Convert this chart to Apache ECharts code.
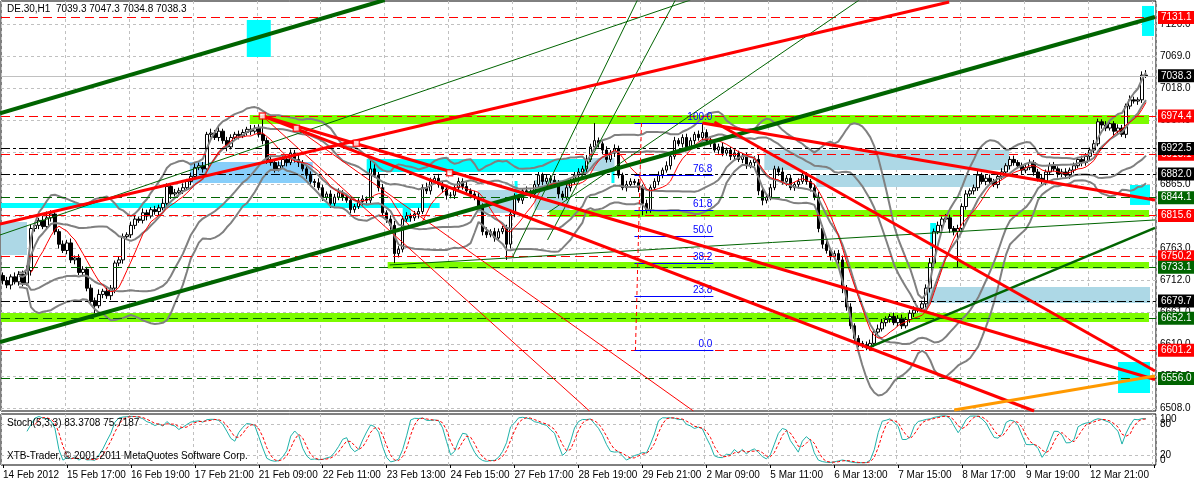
<!DOCTYPE html>
<html><head><meta charset="utf-8">
<script src="https://cdn.jsdelivr.net/npm/echarts@6/dist/echarts.min.js"></script>
<style>html,body{margin:0;padding:0;background:#fff}#c{width:1194px;height:484px}</style>
</head><body><div id="c"></div>
<script>
// ---------- DATA ----------
const xTickLabels = ['14 Feb 2012','15 Feb 17:00','16 Feb 19:00','17 Feb 21:00','21 Feb 09:00','22 Feb 11:00','23 Feb 13:00','24 Feb 15:00','27 Feb 17:00','28 Feb 19:00','29 Feb 21:00','2 Mar 09:00','5 Mar 11:00','6 Mar 13:00','7 Mar 15:00','8 Mar 17:00','9 Mar 19:00','12 Mar 21:00'];
const priceTicks = [6508,6559,6610,6661,6712,6763,6814,6865,6916,6967,7018,7069,7120];
const stochLevelTicks = [20,80];
const stochEdgeTicks = [0,100];
const firstOpen = 6720;
const closes = [
6712,6705,6718,6710,6722,6708,6728,6795,6800,6808,6798,6812,6818,6790,6770,6760,
6772,6745,6748,6725,6730,6700,6680,6672,6690,6695,6688,6700,6740,6745,6782,6785,
6800,6810,6808,6820,6815,6825,6822,6828,6835,6862,6850,6852,6855,6860,6870,6878,
6892,6895,6890,6945,6947,6940,6950,6935,6925,6940,6945,6943,6948,6953,6950,6955,
6945,6935,6905,6900,6890,6895,6905,6900,6915,6905,6900,6890,6880,6870,6868,6860,
6845,6850,6835,6845,6852,6845,6840,6825,6830,6838,6842,6840,6890,6880,6860,6820,
6810,6800,6755,6762,6810,6815,6812,6818,6822,6860,6855,6870,6875,6865,6858,6848,
6848,6860,6870,6862,6855,6850,6845,6830,6790,6785,6790,6780,6790,6795,6770,6818,
6845,6840,6855,6852,6850,6865,6880,6870,6875,6872,6868,6850,6845,6860,6870,6880,
6885,6890,6905,6925,6935,6930,6920,6905,6915,6922,6880,6860,6865,6870,6868,6860,
6835,6825,6860,6870,6880,6888,6895,6910,6935,6930,6940,6925,6935,6945,6940,6948,
6935,6930,6920,6925,6915,6920,6910,6915,6905,6910,6895,6900,6905,6855,6840,6845,
6860,6890,6885,6870,6875,6860,6865,6870,6880,6870,6860,6845,6795,6770,6760,6750,
6755,6745,6700,6670,6640,6620,6612,6610,6605,6612,6630,6635,6645,6650,6655,6645,
6652,6640,6650,6660,6665,6668,6675,6700,6740,6790,6800,6810,6812,6795,6790,6795,
6830,6850,6855,6860,6880,6870,6875,6870,6865,6878,6885,6895,6905,6900,6895,6888,
6892,6900,6885,6875,6870,6885,6895,6890,6882,6885,6880,6888,6895,6905,6900,6910,
6920,6930,6965,6960,6955,6962,6950,6955,6945,6990,7000,6998,7000,7039.3,7038.3];
const hiWick = [
5,6,4,7,5,6,8,6,5,4,7,10,6,5,4,6, 5,7,4,6,5,4,6,5,8,4,6,5,4,6,5,4,
6,5,4,7,5,4,6,5,8,5,4,6,5,7,4,6, 8,5,6,4,7,5,8,4,6,5,4,6,5,4,7,5,
6,29,5,6,4,7,5,4,6,5,7,4,5,6,4,7, 5,4,6,5,7,4,5,6,4,5,6,4,15,8,5,6,
4,6,7,5,5,6,4,5,6,5,8,6,4,7,5,6, 5,4,6,5,7,4,5,6,5,7,4,6,5,4,6,5,
6,5,4,7,5,6,5,4,6,5,7,4,5,6,4,5, 6,5,7,5,28,5,4,6,5,7,5,4,6,5,4,6,
5,6,4,5,6,4,7,5,6,4,5,6,5,4,6,15, 5,6,4,5,7,4,5,6,4,5,6,4,5,8,6,5,
6,5,4,7,5,6,4,5,6,5,4,6,8,5,6,4, 5,6,7,5,6,4,5,4,5,6,5,7,6,5,4,6,
5,6,4,5,6,4,5,6,8,5,6,4,6,5,4,6, 5,6,4,5,7,4,5,6,4,5,6,4,5,6,4,5,
6,5,4,5,6,4,5,6,4,5,6,4,5,4,6,5, 4,6,5,4,6,5,4,6,5,4,7,5,4,6,8];
const loWick = [
6,5,7,4,6,5,4,8,5,6,4,5,6,5,7,4, 6,5,7,4,6,5,7,12,4,6,5,7,8,5,6,4,
5,6,4,5,7,4,5,6,4,5,8,4,6,5,4,6, 5,4,6,7,5,4,6,5,7,4,5,6,4,5,6,4,
5,6,7,5,6,4,5,6,4,5,7,4,6,5,7,4, 6,5,7,4,5,6,4,6,5,4,6,5,7,4,6,5,
6,7,15,6,5,4,6,5,7,4,5,6,4,5,6,7, 5,6,4,5,6,7,5,4,6,5,4,6,5,4,25,7,
5,4,6,5,7,4,5,6,4,5,6,7,5,4,6,5, 4,6,5,4,5,6,7,5,4,6,5,4,6,5,4,7,
19,6,5,4,6,5,4,6,5,4,6,5,4,6,5,4, 6,5,4,6,5,4,6,5,4,6,5,4,6,7,8,5,
5,4,6,5,7,4,5,6,4,5,6,5,6,7,5,6, 4,6,8,6,5,7,6,5,4,5,6,5,4,6,5,4,
6,5,4,5,6,4,5,6,7,5,4,6,5,7,6,57, 6,5,4,6,5,4,6,5,4,6,5,4,6,5,4,6,
5,4,6,5,4,6,5,4,6,5,4,6,5,4,6,5, 6,5,4,6,5,4,6,5,4,6,5,4,6,5,3.5];

// horizontal levels drawn on the chart
const redLevels = [7131.1, 6974.4, 6913.1, 6815.6, 6750.2, 6601.2];
const greenLevels = [6844.1, 6733.1, 6652.1, 6556.0];
const blackLevels = [6922.5, 6882.0, 6679.7];
const bidPrice = 7038.3;

// rectangles: [barFrom, priceTop, barTo, priceBottom]
const limeBands = [[61.75,6975.9,286.75,6961.5],[136.75,6824.5,286.75,6813.4],[96.25,6741.7,286.75,6731.3],[-0.75,6660.3,286.75,6646.0]];
const cyanBoxes = [[61,7127.2,67,7068.2],[285,7149.5,288,7101.7],[-0.75,6835.7,109.25,6827.7],[91,6905.7,146.25,6885.1],[152.25,6886.6,153,6867.5],[100,6827.7,102,6805.4],[128,6870.7,128.75,6840.5],[232,6803.8,233.5,6762.4],[282,6864.3,287,6832.5],[279,6582.4,287,6533.0]];
const blueBoxes = [[-0.75,6805.4,6,6752.8],[118.75,6856.4,128.5,6819.7],[133,6872.3,141.75,6824.5],[146.25,6907.3,153,6886.6],[190.5,6920.1,251.75,6888.2],[203.5,6880.3,243.75,6861.2],[230.75,6701.8,287,6676.3]];
const skyBoxes = [[46.75,6901.0,77.5,6867.5]];

// trend lines: [[bar, price],[bar, price]]
const greenChanUp = [[-0.75,6978.6],[95.5,7159.0]];
const greenChanLow = [[-0.75,6614.2],[288.25,7131.9]];
const greenMid = [[216.25,6604.6],[288.25,6795.9]];
const greenThin1 = [[-0.75,6784.7],[172,7159.0]];
const greenThin2 = [[127.5,6749.6],[158.75,7159.0]];
const greenThin3 = [[136.25,6819.7],[214.25,7159.0]];
const greenThin4 = [[136.25,6776.8],[168.25,7159.0]];
const greenThin5 = [[96.75,6736.9],[288.25,6808.6]];
const redUp = [[-0.75,6802.1],[236.75,7155.8]];
const redDown1 = [[64.9,6974.3],[258,6504.3]];
const redDown2 = [[64.9,6974.3],[288.25,6554.5]];
const redDown3 = [[178,6964.7],[288.25,6568.1]];
const redDown4 = [[175,6963.1],[288.25,6840.5]];
const redThin1 = [[64.9,6974.3],[146.75,6504.3]];
const redThin2 = [[73.4,6954.7],[172.75,6504.3]];
const orangeLine = [[238,6505.9],[288.25,6560.1]];
const redHandles = [[64.9,6974.3],[73.4,6954.7],[88.4,6930.8],[111.75,6883.9]];

// fibonacci
const fibHigh = 6963.0, fibLow = 6601.2;
const fibLevels = [1, 0.768, 0.618, 0.5, 0.382, 0.236, 0];
const fibLabels = ['100.0','76.8','61.8','50.0','38.2','23.8','0.0'];
const fibFrom = 158, fibTo = 177.75;
const fibTrend = [[159.75,fibHigh],[158.25,fibLow]];

// ---------- BUILD ----------
const N_CAT = 289;
const cats = Array.from({length:N_CAT}, (_, i) => String(i));
const opens = closes.map((c, i) => i === 0 ? firstOpen : closes[i-1]);
const highs = closes.map((c, i) => Math.max(opens[i], c) + hiWick[i]);
const lows = closes.map((c, i) => Math.min(opens[i], c) - loWick[i]);
const candles = closes.map((c, i) => [opens[i], c, lows[i], highs[i]]);

function bands(n, k) {
  const up = [], lo = [];
  closes.forEach((c, i) => {
    if (i < 4) { up.push(null); lo.push(null); return; }
    const w = closes.slice(Math.max(0, i-n+1), i+1);
    const m = w.reduce((a,b)=>a+b,0)/w.length;
    const sd = Math.sqrt(w.reduce((a,b)=>a+(b-m)*(b-m),0)/w.length);
    up.push(+(m+k*sd).toFixed(2)); lo.push(+(m-k*sd).toFixed(2));
  });
  return [up, lo];
}
const bb2 = bands(20, 2), bb1 = bands(20, 1);
const ma8 = closes.map((c, i) => i < 7 ? null : +(closes.slice(i-7, i+1).reduce((a,b)=>a+b,0)/8).toFixed(2));
const num = [], den = [];
closes.forEach((c, i) => {
  const s = Math.max(0, i-4);
  const ll = Math.min(...lows.slice(s, i+1)), hh = Math.max(...highs.slice(s, i+1));
  num.push(c-ll); den.push(hh-ll);
});
const stK = closes.map((c, i) => {
  if (i < 6) return null;
  const a = num[i]+num[i-1]+num[i-2], b = den[i]+den[i-1]+den[i-2];
  return b ? +(a/b*100).toFixed(2) : 50;
});
const stD = stK.map((v, i) => (i < 8) ? null : +((stK[i]+stK[i-1]+stK[i-2])/3).toFixed(2));

const FONT = '"Liberation Sans", Arial, sans-serif';
const Y_MIN = 6504.3, Y_MAX = 7157.4;

function levelSeries(levels, lineColor, boxColor, dash, z) {
  return {type:'line', xAxisIndex:2, yAxisIndex:0, data:[], z, silent:true, clip:false,
    markLine:{silent:true, symbol:['none','none'], animation:false,
      lineStyle:{color:lineColor, type:dash, width:1},
      label:{show:true, position:'end', distance:2, formatter:p=>Number(p.value).toFixed(1),
        color:'#fff', backgroundColor:boxColor, padding:[2,3,1,3], fontSize:10, fontFamily:FONT},
      data: levels.map(v => ({yAxis:v}))}};
}
function trend(data, color, width, z, type) {
  return {type:'line', xAxisIndex:2, yAxisIndex:0, data, symbol:'none', showSymbol:false, clip:true,
    silent:true, z:z||6, lineStyle:{color, width, type:type||'solid'}};
}
function areas(arr, color) {
  return arr.map(b => [{coord:[b[0],b[1]], itemStyle:{color, opacity:1, borderWidth:0}}, {coord:[b[2],b[3]]}]);
}

const option = {
  animation:false,
  backgroundColor:'#fff',
  grid:[
    {left:1, right:38, top:1, height:410, show:true, borderColor:'#000', borderWidth:1, backgroundColor:'#fff', outerBoundsMode:'none', containLabel:false},
    {left:1, right:38, top:414, height:51, show:true, borderColor:'#000', borderWidth:1, backgroundColor:'#fff', outerBoundsMode:'none', containLabel:false}
  ],
  xAxis:[
    {type:'category', gridIndex:0, data:cats, boundaryGap:true, axisLine:{show:false}, axisTick:{show:false}, axisLabel:{show:false},
     splitLine:{show:true, interval:15, lineStyle:{color:'#c0c0c0', type:[3,3]}}},
    {type:'category', gridIndex:1, data:cats, boundaryGap:true, axisLine:{show:false},
     axisTick:{show:true, interval:15, alignWithLabel:true, length:3, lineStyle:{color:'#000'}},
     axisLabel:{show:true, interval:15, align:'left', margin:5, fontSize:10, fontFamily:FONT, color:'#000',
       formatter:(v, idx) => xTickLabels[Math.round(idx/16)] || ''},
     splitLine:{show:true, interval:15, lineStyle:{color:'#c0c0c0', type:[3,3]}}},
    {type:'value', gridIndex:0, min:-0.5, max:N_CAT-0.5, show:false}
  ],
  yAxis:[
    {type:'value', gridIndex:0, position:'right', min:Y_MIN, max:Y_MAX, scale:true,
     axisLine:{show:false}, axisTick:{show:false, customValues:priceTicks},
     axisLabel:{customValues:priceTicks, formatter:v=>Number(v).toFixed(1), color:'#000', fontSize:10, fontFamily:FONT, margin:4, hideOverlap:false},
     splitLine:{show:true, customValues:priceTicks, lineStyle:{color:'#c0c0c0', type:[3,3]}}},
    {type:'value', gridIndex:1, position:'right', min:0, max:100,
     axisLine:{show:false}, axisTick:{show:false, customValues:stochLevelTicks},
     axisLabel:{customValues:stochLevelTicks, color:'#000', fontSize:10, fontFamily:FONT, margin:4, hideOverlap:false},
     splitLine:{show:true, customValues:stochLevelTicks, lineStyle:{color:'#c0c0c0', type:[3,3]}}},
    {type:'value', gridIndex:1, position:'right', offset:0, min:0, max:100,
     axisLine:{show:false}, axisTick:{show:false, customValues:stochEdgeTicks},
     axisLabel:{customValues:stochEdgeTicks, color:'#000', fontSize:10, fontFamily:FONT, margin:4,
       showMinLabel:true, showMaxLabel:true, hideOverlap:false,
       verticalAlignMaxLabel:'top', verticalAlignMinLabel:'bottom'},
     splitLine:{show:false}}
  ],
  series:[
    {type:'line', xAxisIndex:2, yAxisIndex:0, data:[], z:1, silent:true,
     markArea:{silent:true, data:[...areas(limeBands,'#7cfc00'), ...areas(blueBoxes,'#add8e6'), ...areas(skyBoxes,'#87cefa'), ...areas(cyanBoxes,'#00ffff')]}},
    {type:'candlestick', xAxisIndex:0, yAxisIndex:0, data:candles, barWidth:3, z:3, silent:true,
     itemStyle:{color:'#ffffff', color0:'#000000', borderColor:'#000000', borderColor0:'#000000', borderWidth:1}},
    {type:'line', xAxisIndex:0, yAxisIndex:0, data:bb2[0], symbol:'none', z:4, silent:true, lineStyle:{color:'#808080', width:2}},
    {type:'line', xAxisIndex:0, yAxisIndex:0, data:bb2[1], symbol:'none', z:4, silent:true, lineStyle:{color:'#808080', width:2}},
    {type:'line', xAxisIndex:0, yAxisIndex:0, data:bb1[0], symbol:'none', z:4, silent:true, lineStyle:{color:'#808080', width:2}},
    {type:'line', xAxisIndex:0, yAxisIndex:0, data:bb1[1], symbol:'none', z:4, silent:true, lineStyle:{color:'#808080', width:2}},
    {type:'line', xAxisIndex:0, yAxisIndex:0, data:ma8, symbol:'none', z:4, silent:true, lineStyle:{color:'#ff0000', width:1}},
    levelSeries([bidPrice], '#c0c0c0', '#000000', 'solid', 5),
    levelSeries(redLevels, '#ff0000', '#ff0000', [9,5], 7),
    levelSeries(greenLevels, '#006400', '#006400', [9,5], 8),
    levelSeries(blackLevels, '#000000', '#000000', [9,3,3,3], 9),
    trend(greenThin1, '#006400', 1), trend(greenThin2, '#006400', 1), trend(greenThin3, '#006400', 1),
    trend(greenThin4, '#006400', 1), trend(greenThin5, '#006400', 1),
    trend(redThin1, '#ff0000', 1), trend(redThin2, '#ff0000', 1),
    trend(greenChanUp, '#006400', 4), trend(greenChanLow, '#006400', 4), trend(greenMid, '#006400', 2.5),
    trend(redUp, '#ff0000', 3), trend(redDown1, '#ff0000', 3), trend(redDown2, '#ff0000', 3),
    trend(redDown3, '#ff0000', 3), trend(redDown4, '#ff0000', 3),
    trend(orangeLine, '#ff9900', 3),
    trend(fibTrend, '#ff0000', 1, 6, [4,3]),
    {type:'line', xAxisIndex:2, yAxisIndex:0, data:[], z:6, silent:true,
     markLine:{silent:true, symbol:['none','none'], lineStyle:{color:'#0000ff', width:1, type:'solid'},
       label:{show:true, position:'insideEndTop', distance:1, color:'#0000ff', fontSize:10, fontFamily:FONT,
         formatter:p => fibLabels[p.dataIndex]},
       data: fibLevels.map(f => { const p = fibLow + (fibHigh-fibLow)*f; return [{coord:[fibFrom,p]},{coord:[fibTo,p]}]; })}},
    {type:'scatter', xAxisIndex:2, yAxisIndex:0, data:redHandles, symbol:'rect', symbolSize:6, z:7, silent:true,
     itemStyle:{color:'#ffffff', borderColor:'#ff0000', borderWidth:1.5}},
    {type:'line', xAxisIndex:1, yAxisIndex:1, data:stK, symbol:'none', silent:true, lineStyle:{color:'#20b2aa', width:1}},
    {type:'line', xAxisIndex:1, yAxisIndex:1, data:stD, symbol:'none', silent:true, lineStyle:{color:'#ff0000', width:1, type:[3,2]}}
  ],
  graphic:[
    {type:'text', left:7, top:4, z:100, style:{text:'DE.30,H1  7039.3 7047.3 7034.8 7038.3', fill:'#000', font:'10px '+FONT}},
    {type:'text', left:7, top:418, z:100, style:{text:'Stoch(5,3,3) 83.3708 75.7187', fill:'#000', font:'10px '+FONT}},
    {type:'text', left:7, top:451, z:100, style:{text:'XTB-Trader, © 2001-2011 MetaQuotes Software Corp.', fill:'#000', font:'10px '+FONT}}
  ]
};
const chart = echarts.init(document.getElementById('c'));
chart.setOption(option);
</script>
</body></html>
